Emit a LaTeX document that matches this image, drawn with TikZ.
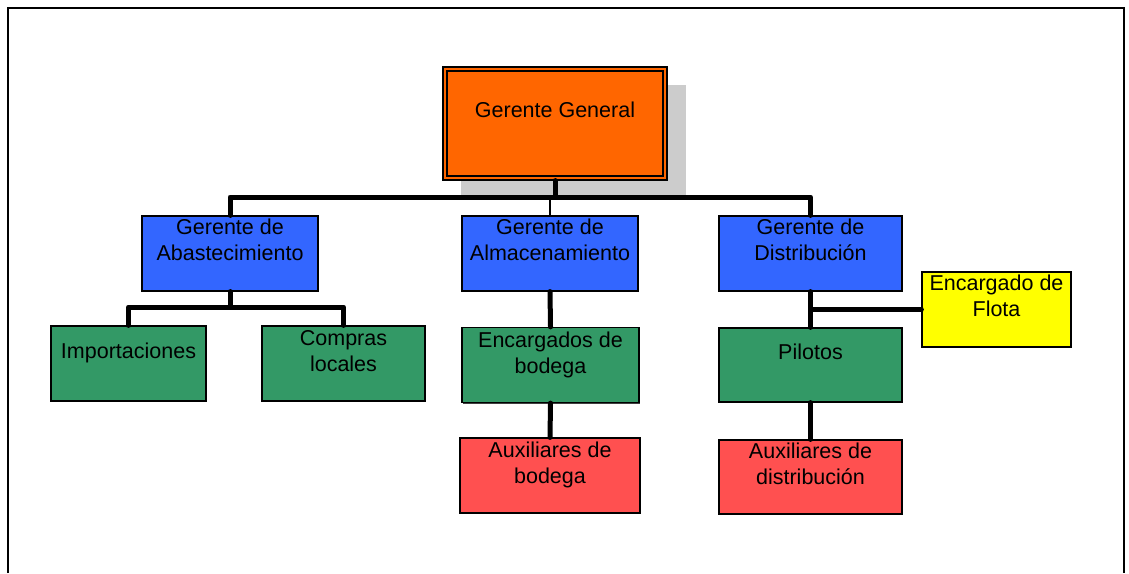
\documentclass[tikz,border=0pt]{standalone}
\usepackage{fontspec}
\setmainfont{Liberation Sans}
\usetikzlibrary{shadows}
\definecolor{ggorange}{HTML}{FF6600}
\definecolor{mgrblue}{HTML}{3366FF}
\definecolor{staffgreen}{HTML}{339966}
\definecolor{auxred}{HTML}{FF5050}
\definecolor{fleetyellow}{HTML}{FFFF00}
\definecolor{shadowgray}{HTML}{CCCCCC}
\tikzset{
  orgbox/.style={draw=black, line width=1.2pt, inner sep=0pt,
    general shadow={shadow xshift=1pt, shadow yshift=-1pt, fill=black!75}},
  boxtext/.style={inner sep=0pt, align=center, font=\fontsize{21.5}{26}\selectfont},
  bus/.style={line width=5pt, line join=round, line cap=round},
  thinlink/.style={line width=1.3pt}
}
\begin{document}
\begin{tikzpicture}[x=1pt,y=-1pt]
\useasboundingbox (0,0) rectangle (1129,573);
% outer frame
\draw[line width=2pt] (8,573) -- (8,8) -- (1124,8) -- (1124,573);

% shadow behind the top box
\fill[shadowgray] (461,85) rectangle (686,195);

% top box with double border
\node[draw=black, line width=1.2pt, fill=ggorange, inner sep=0pt,
      minimum width=224pt, minimum height=113pt] (gg) at (555,123.5) {};
\draw[line width=1.2pt] (447,71) rectangle (663,176);
\node[boxtext] at (gg.north) [yshift=-43pt] {Gerente General};

% managers
\node[orgbox, fill=mgrblue, minimum width=176pt, minimum height=75pt] (abas) at (230,253.5) {};
\node[orgbox, fill=mgrblue, minimum width=176pt, minimum height=75pt] (alma) at (550,253.5) {};
\node[orgbox, fill=mgrblue, minimum width=183pt, minimum height=75pt] (dist) at (810.5,253.5) {};
\node[orgbox, fill=fleetyellow, minimum width=149pt, minimum height=75pt] (flota) at (996.5,309.5) {};

% staff
\node[orgbox, fill=staffgreen, minimum width=155pt, minimum height=75pt] (imp) at (128.5,363.5) {};
\node[orgbox, fill=staffgreen, minimum width=163pt, minimum height=75pt] (comp) at (343.5,363.5) {};
\node[orgbox, fill=staffgreen, minimum width=177pt, minimum height=75pt] (enc) at (550.5,365) {};
\node[orgbox, fill=staffgreen, minimum width=183pt, minimum height=74pt] (pil) at (810.5,365) {};

% assistants
\node[orgbox, fill=auxred, minimum width=180pt, minimum height=75pt] (auxb) at (550,475.5) {};
\node[orgbox, fill=auxred, minimum width=183pt, minimum height=74pt] (auxd) at (810.5,477) {};

% labels
\node[boxtext] at (abas.north) [yshift=-24pt] {Gerente de\\Abastecimiento};
\node[boxtext] at (alma.north) [yshift=-24pt] {Gerente de\\Almacenamiento};
\node[boxtext] at (dist.north) [yshift=-24pt] {Gerente de\\Distribución};
\node[boxtext] at (flota.north) [yshift=-24pt] {Encargado de\\Flota};
\node[boxtext] at (imp.north) [yshift=-28pt] {Importaciones};
\node[boxtext] at (comp.north) [yshift=-26pt] {Compras\\locales};
\node[boxtext] at (enc.north) [yshift=-28pt] {Encargados de\\bodega};
\node[boxtext] at (pil.north) [yshift=-24pt] {Pilotos};
\node[boxtext] at (auxb.north) [yshift=-28pt] {Auxiliares de\\bodega};
\node[boxtext] at (auxd.north) [yshift=-24pt] {Auxiliares de\\distribución};

% connectors
\coordinate (j0) at (555,197);
\coordinate (j1) at (230,307);
\draw[bus] (abas.north) |- (j0) -| (dist.north);
\draw[bus] (gg.south) -- (j0);
\draw[thinlink] (j0 -| alma.north) -- (alma.north);

\draw[bus] (abas.south) -- (j1);
\draw[bus] (imp.north) |- (j1) -| (comp.north);

\draw[bus] (alma.south) -- (enc.north);
\draw[bus] (enc.south) -- (auxb.north);

\draw[bus] (dist.south) -- (pil.north);
\draw[bus] (dist.south |- flota.west) -- (flota.west);
\draw[bus] (pil.south) -- (auxd.north);
\end{tikzpicture}
\end{document}
